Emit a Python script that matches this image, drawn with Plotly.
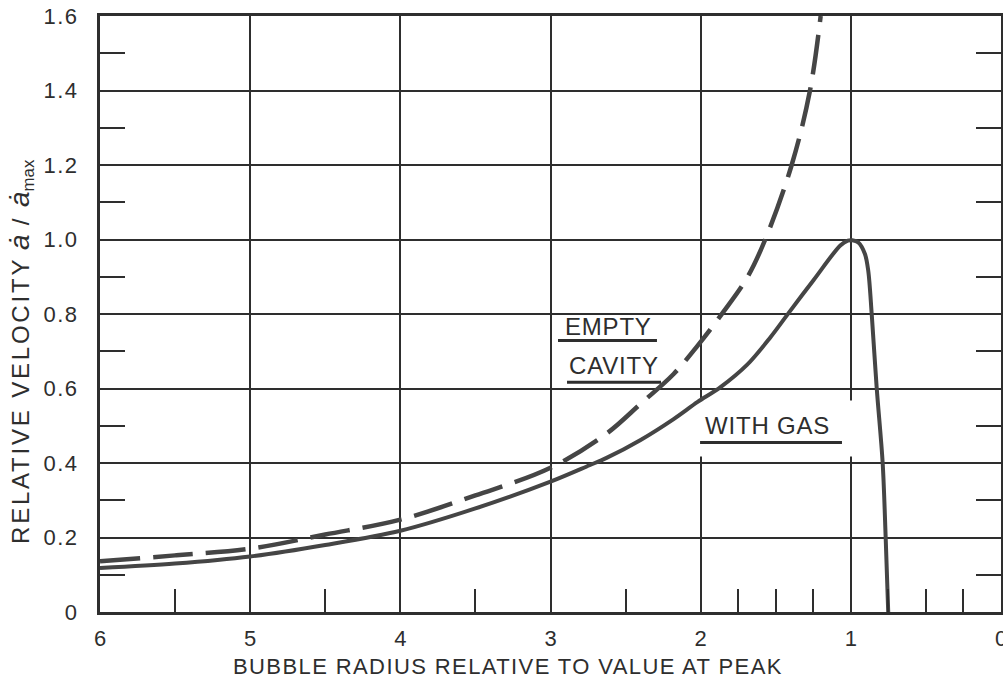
import plotly.graph_objects as go

# ---- data ----
gas_x = [6.0, 5.5, 5.0, 4.5, 4.0, 3.5, 3.0, 2.74, 2.63, 2.40, 2.18, 2.02, 1.87,
         1.69, 1.54, 1.41, 1.25, 1.07, 1.02, 0.99, 0.95, 0.906, 0.884, 0.861,
         0.828, 0.788, 0.768, 0.751]
gas_y = [0.118, 0.13, 0.149, 0.18, 0.218, 0.278, 0.35, 0.394, 0.413, 0.462, 0.518,
         0.564, 0.603, 0.664, 0.735, 0.805, 0.89, 0.984, 0.997, 0.998, 0.992, 0.961,
         0.916, 0.80, 0.603, 0.40, 0.20, 0.0]

empty_x = [6.0, 5.5, 5.0, 4.5, 4.0, 3.5, 3.0, 2.63, 2.40, 2.18, 2.02, 1.85, 1.69,
           1.57, 1.394, 1.272, 1.201]
empty_y = [0.136, 0.152, 0.17, 0.208, 0.248, 0.313, 0.387, 0.478, 0.559, 0.639,
           0.715, 0.805, 0.898, 1.0, 1.2, 1.4, 1.6]

x_major = [6, 5, 4, 3, 2, 1, 0]
x_minor = [5.5, 4.5, 3.5, 2.5, 1.75, 1.5, 1.25, 0.75, 0.5, 0.25]
y_major = [0, 0.2, 0.4, 0.6, 0.8, 1.0, 1.2, 1.4, 1.6]
y_major_text = ["0", "0.2", "0.4", "0.6", "0.8", "1.0", "1.2", "1.4", "1.6"]
y_minor = [0.1, 0.3, 0.5, 0.7, 0.9, 1.1, 1.3, 1.5]

labels = [
    # text, x, y, underline x0, x1, y
    ("EMPTY", 2.611, 0.767, 2.950, 2.291, 0.729),
    ("CAVITY", 2.577, 0.662, 2.890, 2.264, 0.617),
    ("WITH GAS", 1.558, 0.50, 2.004, 1.059, 0.455),
]

FONT = "Liberation Sans, Arial, sans-serif"
INK = "#2e2e2e"
CURVE = "#454545"


def spaced(s, px):
    return '<span style="letter-spacing:%spx">%s</span>' % (px, s)


fig = go.Figure()
fig.add_trace(go.Scatter(x=empty_x, y=empty_y, mode="lines",
                         line=dict(color=CURVE, width=4.5, dash="40px,13px",
                                   shape="spline", smoothing=1.0),
                         showlegend=False, hoverinfo="skip"))
fig.add_trace(go.Scatter(x=gas_x, y=gas_y, mode="lines",
                         line=dict(color=CURVE, width=4, shape="spline", smoothing=0.9),
                         showlegend=False, hoverinfo="skip"))

# white patch interrupting the grid behind the WITH GAS label
fig.add_shape(type="rect", xref="x", yref="y", x0=2.04, x1=0.96, y0=0.4175, y1=0.568,
              fillcolor="white", line=dict(width=0), layer="between")

for txt, tx, ty, ux0, ux1, uy in labels:
    fig.add_annotation(x=tx, y=ty, xref="x", yref="y", text=spaced(txt, 0.8),
                       showarrow=False,
                       font=dict(family=FONT, size=24, color=INK),
                       xanchor="center", yanchor="middle")
    fig.add_shape(type="line", xref="x", yref="y", x0=ux0, x1=ux1, y0=uy, y1=uy,
                  line=dict(color=INK, width=3), layer="above")

# axis titles
fig.add_annotation(x=(508 - 100) / 901, y=(612 - 666) / 596, xref="paper", yref="paper",
                   text=spaced("BUBBLE RADIUS RELATIVE TO VALUE AT PEAK", 1.4),
                   showarrow=False,
                   font=dict(family=FONT, size=22, color=INK),
                   xanchor="center", yanchor="middle")
adot = '<i><span style="font-size:28px">ȧ</span></i>'
ytitle = (spaced("RELATIVE VELOCITY", 2.8) + " " + adot + spaced(" / ", 2.5) + adot
          + "<sub>max</sub>")
fig.add_annotation(x=(21 - 100) / 901, y=(612 - 352) / 596, xref="paper", yref="paper",
                   text=ytitle, showarrow=False, textangle=-90,
                   font=dict(family=FONT, size=24, color=INK),
                   xanchor="center", yanchor="middle")

fig.update_layout(
    width=1003, height=679,
    margin=dict(l=100, r=2, t=16, b=67, autoexpand=False),
    paper_bgcolor="white", plot_bgcolor="white",
    font=dict(family=FONT, color=INK),
)
fig.update_xaxes(
    range=[6, 0], tickmode="array", tickvals=x_major,
    ticktext=[str(v) for v in x_major],
    tickfont=dict(family=FONT, size=22, color=INK),
    ticks="inside", ticklen=23, tickwidth=1.5, tickcolor=INK,
    ticklabelstandoff=5, ticklabeloverflow="allow", automargin=False,
    minor=dict(tickmode="array", tickvals=x_minor, ticks="inside", ticklen=23,
               tickwidth=1.8, tickcolor=INK, showgrid=False),
    showgrid=True, gridcolor=INK, gridwidth=1.5,
    showline=True, linecolor=INK, linewidth=3, mirror=True,
    zeroline=False, fixedrange=True,
)
fig.update_yaxes(
    range=[0, 1.6], tickmode="array", tickvals=y_major,
    ticktext=[spaced(t, 1.5) for t in y_major_text],
    tickfont=dict(family=FONT, size=22, color=INK),
    ticks="inside", ticklen=25, tickwidth=1.5, tickcolor=INK,
    ticklabelstandoff=14, automargin=False,
    minor=dict(tickmode="array", tickvals=y_minor, ticks="inside", ticklen=25,
               tickwidth=2.2, tickcolor=INK, showgrid=False),
    showgrid=True, gridcolor=INK, gridwidth=1.5,
    showline=True, linecolor=INK, linewidth=3, mirror="ticks",
    zeroline=False, fixedrange=True,
)

fig.write_html("out.html")
